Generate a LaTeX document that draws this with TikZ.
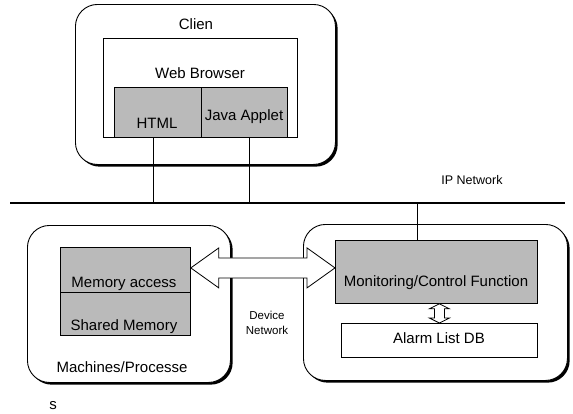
\documentclass[tikz,border=0pt]{standalone}
\usepackage{fontspec}
\setmainfont{Liberation Sans}
\usetikzlibrary{calc,shadows}
\tikzset{
  panel/.style={draw, line width=0.9pt, rounded corners=22pt, fill=white,
    inner sep=0pt, anchor=north west,
    drop shadow={shadow xshift=2.2pt, shadow yshift=-2.2pt, fill=black, opacity=1}},
  gbox/.style={draw, line width=0.8pt, fill=black!27, inner sep=0pt, anchor=north west},
  wbox/.style={draw, line width=0.8pt, fill=white, inner sep=0pt, anchor=north west},
  lbl/.style={font=\fontsize{15}{17}\selectfont, inner sep=0pt},
  smalllbl/.style={font=\fontsize{11.5}{15}\selectfont, inner sep=0pt, align=center},
  hollow/.style={draw, line width=0.8pt, fill=white, line join=miter},
  wire/.style={line width=0.7pt},
}
\begin{document}
\begin{tikzpicture}[x=1pt,y=-1pt]
\useasboundingbox (0,0) rectangle (573,413);

% client side
\node[panel, minimum width=260, minimum height=160] (client) at (75,4) {};
\node[wbox, minimum width=194, minimum height=99] (browser) at (103,38) {};
\node[gbox, minimum width=87, minimum height=50] (html) at (114,87) {};
\node[gbox, minimum width=86, minimum height=50] (java) at (201,87) {};
\node[lbl] (tclient) at (196,24) {Clien};
\node[lbl] (tbrowser) at (200,73) {Web Browser};
\node[lbl] (thtml) at (157,123) {HTML};
\node[lbl] (tjava) at (244,117) {Java Applet};

% IP network bus
\coordinate (ipL) at (10,203);
\coordinate (ipR) at (565,203);
\draw[line width=1.1pt] (ipL) -- (ipR);
\node[lbl, font=\fontsize{12.5}{14}\selectfont] (tip) at (472,180) {IP Network};

% machines / processes
\node[panel, minimum width=203, minimum height=157] (mach) at (27,225) {};
\node[gbox, minimum width=130, minimum height=45] (mem) at (60,247) {};
\node[gbox, minimum width=130, minimum height=43] (shm) at (60,292) {};
\node[lbl] (tmem) at (124,284) {Memory access};
\node[lbl] (tshm) at (124,327) {Shared Memory};
\node[lbl] (tmach) at (122,367) {Machines/Processe};
\node[lbl] (ts) at (53,406) {s};

% monitoring server
\node[panel, minimum width=264, minimum height=156] (server) at (303,224) {};
\node[gbox, minimum width=202, minimum height=63] (mon) at (335,240) {};
\node[wbox, minimum width=196, minimum height=34] (alarm) at (341,323) {};
\node[lbl] (tmon) at (436,283) {Monitoring/Control Function};
\node[lbl] (talarm) at (439,338) {Alarm List DB};

\node[smalllbl] (tdev) at (267,323) {Device\\Network};

% wires to the bus
\draw[wire] ([xshift=-5]html.south) -- ([xshift=-5]html.south |- ipL);
\draw[wire] ([xshift=5]java.south) -- ([xshift=5]java.south |- ipL);
\draw[wire] ([xshift=-19]mon.north) -- ([xshift=-19]mon.north |- ipL);

% device network double arrow
\coordinate (aL) at ([yshift=2]mem.east);
\coordinate (aR) at (mon.west |- aL);
\draw[hollow] (aL) -- ++(28,-20) -- ++(0,10) -- ($(aR)+(-28,-10)$) -- ++(0,-10)
  -- (aR) -- ++(-28,20) -- ++(0,-10) -- ($(aL)+(28,10)$) -- ++(0,10) -- cycle;

% link between function and database
\coordinate (vT) at ([xshift=3]mon.south);
\coordinate (vB) at (vT |- alarm.north);
\draw[hollow] (vT) -- ++(10,5) -- ++(-5,0) -- ($(vB)+(5,-5)$) -- ++(5,0) -- (vB)
  -- ++(-10,-5) -- ++(5,0) -- ($(vT)+(-5,5)$) -- ++(-5,0) -- cycle;
\end{tikzpicture}
\end{document}
